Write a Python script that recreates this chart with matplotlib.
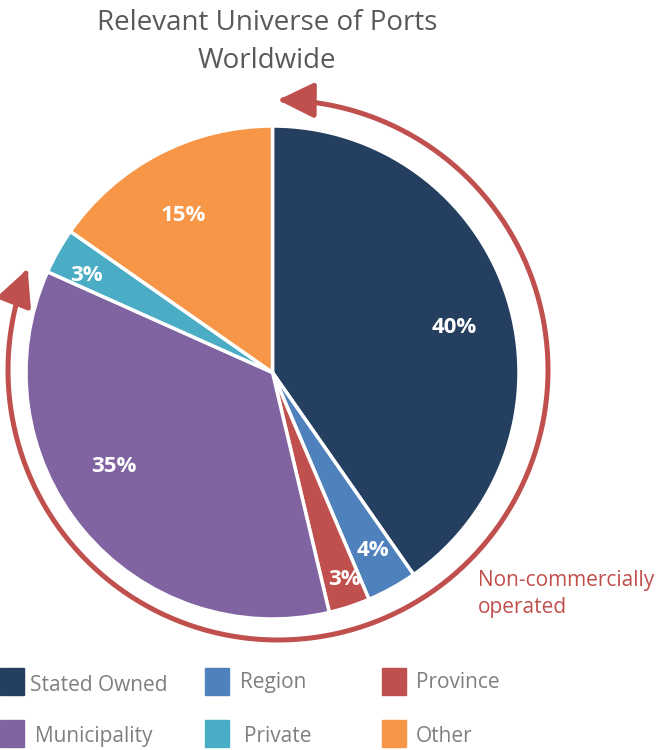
import numpy as np
import matplotlib
matplotlib.use("Agg")
import matplotlib.pyplot as plt
from matplotlib.patches import Rectangle, FancyArrowPatch
from matplotlib.path import Path

categories = ["Stated Owned", "Region", "Province", "Municipality", "Private", "Other"]
values = [40.3, 3.3, 2.7, 35.4, 3.0, 15.3]
labels_pct = ["40%", "4%", "3%", "35%", "3%", "15%"]
colors = ["#243F60", "#4F81BD", "#C0504D", "#8064A2", "#4BACC6", "#F79646"]
title_lines = ["Relevant Universe of Ports", "Worldwide"]
note_lines = ["Non-commercially", "operated"]

plt.rcParams['font.family'] = ['Open Sans', 'DejaVu Sans']

W, H = 660, 750
fig = plt.figure(figsize=(6.6, 7.5), dpi=100)
ax = fig.add_axes([0, 0, 1, 1])

cx, cy, R = 272.5, H - 372.5, 246.5
wedges, _ = ax.pie(values, colors=colors, startangle=90, counterclock=False,
                   center=(cx, cy), radius=R,
                   wedgeprops=dict(edgecolor='white', linewidth=2.5))
ax.set_xlim(0, W)
ax.set_ylim(0, H)
ax.set_aspect('equal')
ax.axis('off')

label_r = [0.76, 0.83, 0.89, 0.75, 0.85, 0.73]
label_off = [-3.7, 0.3, 1, -9, 2, 2]
for w, lab, lr, off in zip(wedges, labels_pct, label_r, label_off):
    a = np.deg2rad((w.theta1 + w.theta2) / 2 + off)
    ax.text(cx + R * lr * np.cos(a), cy + R * lr * np.sin(a), lab,
            color='white', fontsize=16, fontweight='bold', ha='center', va='center')

# arc arrow around non-commercial slices
acx, acy, RA = 278, H - 370, 270
th = np.deg2rad(np.linspace(90, -202, 300))
verts = np.column_stack([acx + RA * np.cos(th), acy + RA * np.sin(th)])
arr = FancyArrowPatch(path=Path(verts), arrowstyle='<|-|>,head_length=0.55,head_width=0.27',
                      mutation_scale=40, color='#C0504D', lw=3.6, shrinkA=0, shrinkB=0)
ax.add_patch(arr)

for i, line in enumerate(note_lines):
    ax.text(478, H - 586 - 27 * i, line, color='#C0504D', fontsize=15,
            ha='left', va='baseline')

for i, line in enumerate(title_lines):
    ax.text(267, H - 30 - 38 * i, line, color='#595959', fontsize=20,
            ha='center', va='baseline')

# legend
sq_x = [0, 205, 382, 0, 205, 382]
sq_y = [668, 668, 668, 720, 720, 720]
tx_x = [30, 240, 416, 35, 244, 416]
tx_y = [691, 688, 688, 742, 742, 742]
for x, y, tx, ty, cat, col in zip(sq_x, sq_y, tx_x, tx_y, categories, colors):
    ax.add_patch(Rectangle((x, H - y - 27), 24, 27, color=col, clip_on=False))
    ax.text(tx, H - ty, cat, color='#7F7F7F', fontsize=15, ha='left', va='baseline')

fig.savefig("out.png", dpi=100)
